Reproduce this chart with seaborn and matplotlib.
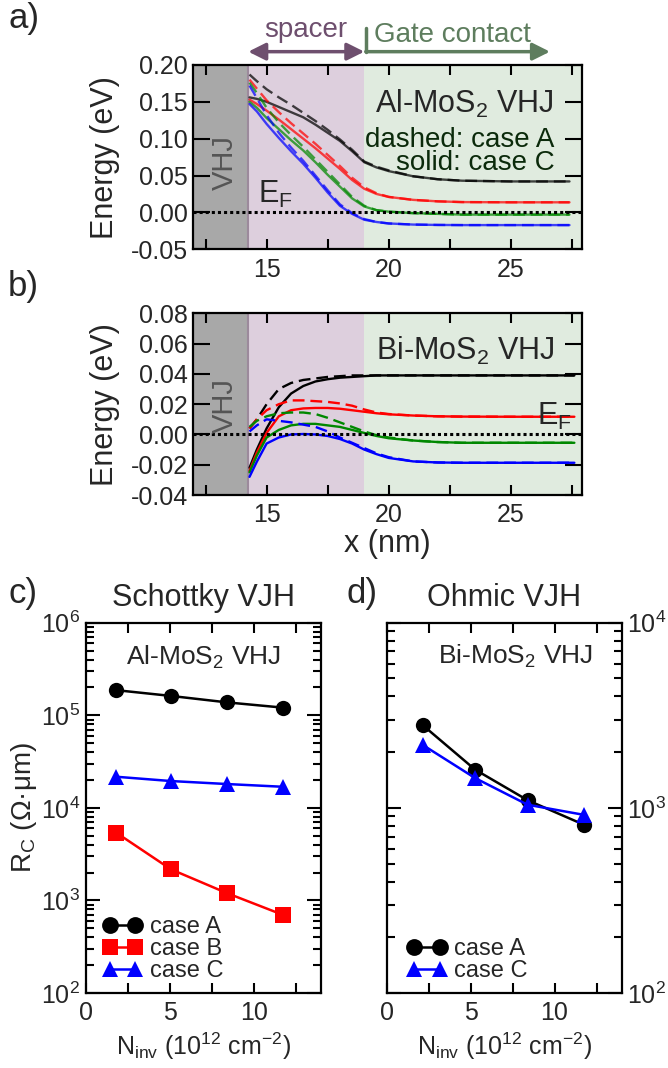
import numpy as np
import pandas as pd
import matplotlib
matplotlib.use('Agg')
import matplotlib.pyplot as plt
import seaborn as sns
from matplotlib.ticker import MultipleLocator, FuncFormatter, LogLocator, NullFormatter

# ---- panel a: band profiles, Al-MoS2 VHJ (dashed: case A, solid: case C)
xa = [14.3, 14.6, 15.0, 15.5, 16.0, 16.5, 17.0, 17.5, 18.0, 18.5, 19.0, 19.5,
      20.0, 21.0, 22.0, 23.0, 25.0, 27.4]
a_black_dash = [0.187, 0.178, 0.167, 0.156, 0.146, 0.135, 0.124, 0.112, 0.099, 0.085, 0.069, 0.062,
                0.057, 0.049, 0.045, 0.043, 0.042, 0.042]
a_black_solid = [0.156, 0.154, 0.150, 0.143, 0.136, 0.129, 0.119, 0.108, 0.097, 0.083, 0.068, 0.061,
                 0.056, 0.049, 0.045, 0.043, 0.042, 0.042]
a_red_dash = [0.180, 0.168, 0.152, 0.136, 0.121, 0.107, 0.093, 0.078, 0.063, 0.047, 0.034, 0.026,
              0.021, 0.017, 0.015, 0.014, 0.0137, 0.0137]
a_red_solid = [0.153, 0.147, 0.138, 0.126, 0.113, 0.100, 0.087, 0.073, 0.059, 0.044, 0.032, 0.025,
               0.021, 0.017, 0.015, 0.014, 0.0137, 0.0137]
a_green_dash = [0.176, 0.162, 0.142, 0.122, 0.105, 0.089, 0.072, 0.055, 0.038, 0.021, 0.009, 0.003,
                0.001, -0.001, -0.002, -0.003, -0.003, -0.003]
a_green_solid = [0.150, 0.142, 0.128, 0.113, 0.098, 0.084, 0.068, 0.051, 0.035, 0.019, 0.008, 0.003,
                 0.001, -0.001, -0.002, -0.003, -0.003, -0.003]
a_blue_dash = [0.172, 0.155, 0.132, 0.108, 0.088, 0.070, 0.050, 0.030, 0.011, -0.001, -0.009, -0.013,
               -0.015, -0.0165, -0.017, -0.0172, -0.0172, -0.0172]
a_blue_solid = [0.147, 0.137, 0.120, 0.101, 0.083, 0.066, 0.047, 0.027, 0.009, -0.002, -0.010, -0.013,
                -0.015, -0.0165, -0.017, -0.0172, -0.0172, -0.0172]

# ---- panel b: band profiles, Bi-MoS2 VHJ
xb = [14.3, 14.6, 15.0, 15.5, 16.0, 16.5, 17.0, 17.5, 18.0, 18.5, 19.0, 19.5,
      20.0, 21.0, 22.0, 23.0, 25.0, 27.6]
b_black_dash = [0.004, 0.010, 0.020, 0.030, 0.034, 0.036, 0.037, 0.038, 0.0385, 0.039, 0.039, 0.039,
                0.039, 0.039, 0.039, 0.039, 0.039, 0.039]
b_black_solid = [-0.022, -0.010, 0.004, 0.018, 0.027, 0.032, 0.035, 0.0365, 0.0375, 0.038, 0.0385, 0.039,
                 0.039, 0.039, 0.039, 0.039, 0.039, 0.039]
b_red_dash = [0.004, 0.010, 0.016, 0.020, 0.0225, 0.0225, 0.022, 0.0215, 0.0205, 0.019, 0.0165, 0.0145,
              0.0135, 0.0125, 0.012, 0.0118, 0.0117, 0.0117]
b_red_solid = [-0.024, -0.012, 0.001, 0.012, 0.016, 0.0172, 0.0175, 0.0175, 0.017, 0.016, 0.015, 0.014,
               0.0133, 0.0125, 0.012, 0.0118, 0.0117, 0.0117]
b_green_dash = [0.005, 0.009, 0.012, 0.014, 0.0145, 0.0145, 0.0135, 0.011, 0.008, 0.005, 0.002, -0.0005,
                -0.002, -0.004, -0.005, -0.0055, -0.0055, -0.0055]
b_green_solid = [-0.025, -0.014, -0.002, 0.003, 0.006, 0.007, 0.007, 0.006, 0.005, 0.003, 0.001, -0.001,
                 -0.0025, -0.004, -0.005, -0.0055, -0.0055, -0.0055]
b_blue_dash = [0.002, 0.006, 0.010, 0.009, 0.008, 0.0065, 0.005, 0.002, -0.002, -0.0055, -0.009, -0.0125,
               -0.015, -0.0178, -0.0185, -0.0187, -0.0187, -0.0187]
b_blue_solid = [-0.028, -0.018, -0.006, -0.002, 0.000, 0.0003, 0.000, -0.001, -0.003, -0.006, -0.010, -0.013,
                -0.0155, -0.0178, -0.0185, -0.0187, -0.0187, -0.0187]

# ---- panel c: contact resistance, Schottky (Al-MoS2)
n_inv_c = [1.8, 5.06, 8.4, 11.75]
rc_schottky_a = [1.87e5, 1.62e5, 1.38e5, 1.21e5]
rc_schottky_b = [5.4e3, 2.17e3, 1.2e3, 697]
rc_schottky_c = [2.17e4, 1.95e4, 1.81e4, 1.69e4]

# ---- panel d: contact resistance, Ohmic (Bi-MoS2)
n_inv_d = [2.15, 5.27, 8.4, 11.78]
rc_ohmic_a = [2.8e3, 1.61e3, 1.10e3, 809]
rc_ohmic_c = [2.19e3, 1.45e3, 1.04e3, 916]

# regions along x (nm)
vhj_end, spacer_end, x_max = 14.25, 19.0, 27.9

sns.set_theme(style='ticks')
plt.rcParams['font.family'] = ['Liberation Sans', 'DejaVu Sans']
plt.rcParams['mathtext.fontset'] = 'custom'
plt.rcParams['mathtext.rm'] = 'Liberation Sans'
plt.rcParams['mathtext.it'] = 'Liberation Sans:italic'
plt.rcParams['mathtext.default'] = 'regular'
plt.rcParams['axes.linewidth'] = 1.6
plt.rcParams['axes.edgecolor'] = 'black'

TICK = 18
LAB = 22

fig = plt.figure(figsize=(6.68, 10.68), dpi=100)
ax_a = fig.add_axes([0.2894, 0.7666, 0.5814, 0.1726])
ax_b = fig.add_axes([0.2894, 0.5365, 0.5814, 0.1701])
ax_c = fig.add_axes([0.1287, 0.0702, 0.3518, 0.3467])
ax_d = fig.add_axes([0.5786, 0.0702, 0.3521, 0.3467])

dash = (0, (5, 2.5))
colors = {'black': 'black', 'red': '#ff0000', 'green': '#008800', 'blue': '#0000ff'}


def band_panel(ax, x, series, ylo, yhi, ystep, alpha, vhj_y):
    ax.axvspan(12, vhj_end, color='#a8a8a8', lw=0, zorder=0)
    ax.axvspan(vhj_end, spacer_end, color='#ddcfdd', lw=0, zorder=0)
    ax.axvspan(spacer_end, x_max, color='#e0ebdf', lw=0, zorder=0)
    ax.axvline(vhj_end, color='#9c8a9c', lw=1.5, zorder=0.5)
    for cname, (yd, ys) in series.items():
        sns.lineplot(x=x, y=yd, ax=ax, color=colors[cname], lw=1.7, linestyle=dash,
                     alpha=alpha, sort=False, estimator=None, zorder=2)
        sns.lineplot(x=x, y=ys, ax=ax, color=colors[cname], lw=1.7,
                     alpha=alpha, sort=False, estimator=None, zorder=2)
    ax.axhline(0, color='black', lw=2.2, linestyle=(0, (1, 1)), zorder=3)
    ax.set_xlim(12, x_max)
    ax.set_ylim(ylo, yhi)
    ax.xaxis.set_major_locator(MultipleLocator(5))
    ax.xaxis.set_minor_locator(MultipleLocator(2.5))
    ax.yaxis.set_major_locator(MultipleLocator(ystep))
    ax.yaxis.set_major_formatter(FuncFormatter(lambda v, p: f'{v:.2f}'))
    ax.tick_params(axis='both', which='both', direction='in', top=True, right=True,
                   width=1.5, labelsize=TICK, color='black')
    ax.tick_params(axis='x', which='both', length=7.5, pad=6)
    ax.tick_params(axis='y', which='major', length=12, pad=4)
    ax.set_ylabel('Energy (eV)', fontsize=LAB)
    ax.yaxis.set_label_coords(-0.19, 0.5)
    ax.set_xlabel('')
    ax.text(13.3, vhj_y, 'VHJ', rotation=90, color='#555555',
            fontsize=21, ha='center', va='center')


band_panel(ax_a, xa, {'black': (a_black_dash, a_black_solid), 'red': (a_red_dash, a_red_solid),
                      'green': (a_green_dash, a_green_solid), 'blue': (a_blue_dash, a_blue_solid)},
           -0.05, 0.2, 0.05, 0.72, 0.068)
band_panel(ax_b, xb, {'black': (b_black_dash, b_black_solid), 'red': (b_red_dash, b_red_solid),
                      'green': (b_green_dash, b_green_solid), 'blue': (b_blue_dash, b_blue_solid)},
           -0.04, 0.08, 0.02, 1.0, 0.019)
ax_b.set_xlabel('x (nm)', fontsize=LAB, labelpad=1)

# annotations panel a
ax_a.text(26.75, 0.1345, 'Al-MoS$_2$ VHJ', fontsize=22, ha='right', va='baseline')
ax_a.text(26.8, 0.0575, 'dashed: case A\nsolid: case C', fontsize=20, ha='right', va='baseline',
          multialignment='right', linespacing=0.85, color='#0b2a0b')
ax_a.text(14.64, 0.0123, 'E$_F$', fontsize=22, ha='left', va='baseline')
ax_b.text(26.8, 0.0492, 'Bi-MoS$_2$ VHJ', fontsize=22, ha='right', va='baseline')
ax_b.text(26.05, 0.0062, 'E$_F$', fontsize=22, ha='left', va='baseline')

tr = ax_a.get_xaxis_transform()
spacer_col = '#6e4f6e'
gate_col = '#5e7d5e'
ax_a.annotate('', xy=(spacer_end, 1.072), xytext=(vhj_end, 1.072), xycoords=tr, textcoords=tr,
              arrowprops=dict(arrowstyle='<|-|>', color=spacer_col, lw=2.5, mutation_scale=26,
                              shrinkA=0, shrinkB=0), annotation_clip=False)
ax_a.annotate('', xy=(26.6, 1.072), xytext=(19.06, 1.072), xycoords=tr, textcoords=tr,
              arrowprops=dict(arrowstyle='-|>', color=gate_col, lw=2.5, mutation_scale=26,
                              shrinkA=0, shrinkB=0), annotation_clip=False)
ax_a.plot([19.06, 19.06], [1.072, 1.2], transform=tr, color=gate_col, lw=2.5, clip_on=False)
ax_a.text(16.6, 1.15, 'spacer', transform=tr, color=spacer_col, fontsize=20, ha='center', va='baseline')
ax_a.text(19.4, 1.126, 'Gate contact', transform=tr, color=gate_col, fontsize=20, ha='left', va='baseline')


def rc_panel(ax, x, series, ylo, yhi, leg_x):
    for lab, y, col, mk in series:
        sns.lineplot(x=x, y=y, ax=ax, color=col, marker=mk, markersize=11, lw=1.8,
                     markeredgecolor=col, markeredgewidth=0, label=lab, sort=False, estimator=None)
    ax.set_yscale('log')
    ax.set_ylim(ylo, yhi)
    ax.set_xlim(0, 14)
    ax.xaxis.set_major_locator(MultipleLocator(5))
    ax.xaxis.set_minor_locator(MultipleLocator(2.5))
    ax.yaxis.set_minor_locator(LogLocator(base=10, subs=np.arange(2, 10)))
    ax.yaxis.set_minor_formatter(NullFormatter())
    ax.tick_params(axis='both', which='both', direction='in', top=True, right=True,
                   width=1.5, labelsize=TICK, color='black')
    ax.tick_params(axis='x', which='both', length=7.5, pad=6)
    ax.tick_params(axis='y', which='major', length=10, pad=4)
    ax.tick_params(axis='y', which='minor', length=6)
    ax.set_xlabel('N$_{inv}$ (10$^{12}$ cm$^{-2}$)', fontsize=18, labelpad=4)
    ax.legend(loc='lower left', bbox_to_anchor=(leg_x, 0.03), frameon=False, fontsize=17,
              handlelength=1.7, handletextpad=0.3, labelspacing=0.0, numpoints=2,
              borderpad=0, borderaxespad=0, markerscale=1.1)


rc_panel(ax_c, n_inv_c, [('case A', rc_schottky_a, 'black', 'o'),
                         ('case B', rc_schottky_b, '#ff0000', 's'),
                         ('case C', rc_schottky_c, '#0000ff', '^')], 1e2, 1e6, 0.07)
rc_panel(ax_d, n_inv_d, [('case A', rc_ohmic_a, 'black', 'o'),
                         ('case C', rc_ohmic_c, '#0000ff', '^')], 1e2, 1e4, 0.085)
ax_c.set_ylabel('R$_C$ (Ω·μm)', fontsize=20)
ax_c.yaxis.set_label_coords(-0.2, 0.5)
ax_d.tick_params(axis='y', which='both', labelleft=False, labelright=True)
ax_d.set_ylabel('')
ax_c.set_title('Schottky VJH', fontsize=22, pad=12)
ax_d.set_title('Ohmic VJH', fontsize=22, pad=12)
ax_c.text(0.5, 0.886, 'Al-MoS$_2$ VHJ', transform=ax_c.transAxes, fontsize=19, ha='center', va='baseline')
ax_d.text(0.546, 0.89, 'Bi-MoS$_2$ VHJ', transform=ax_d.transAxes, fontsize=19, ha='center', va='baseline')

for lab, px, py in [('a)', 8, 28), ('b)', 8, 296), ('c)', 8, 603), ('d)', 347, 603)]:
    fig.text(px / 668, 1 - py / 1068, lab, fontsize=25, ha='left', va='baseline')

fig.savefig('out.png', dpi=100)
